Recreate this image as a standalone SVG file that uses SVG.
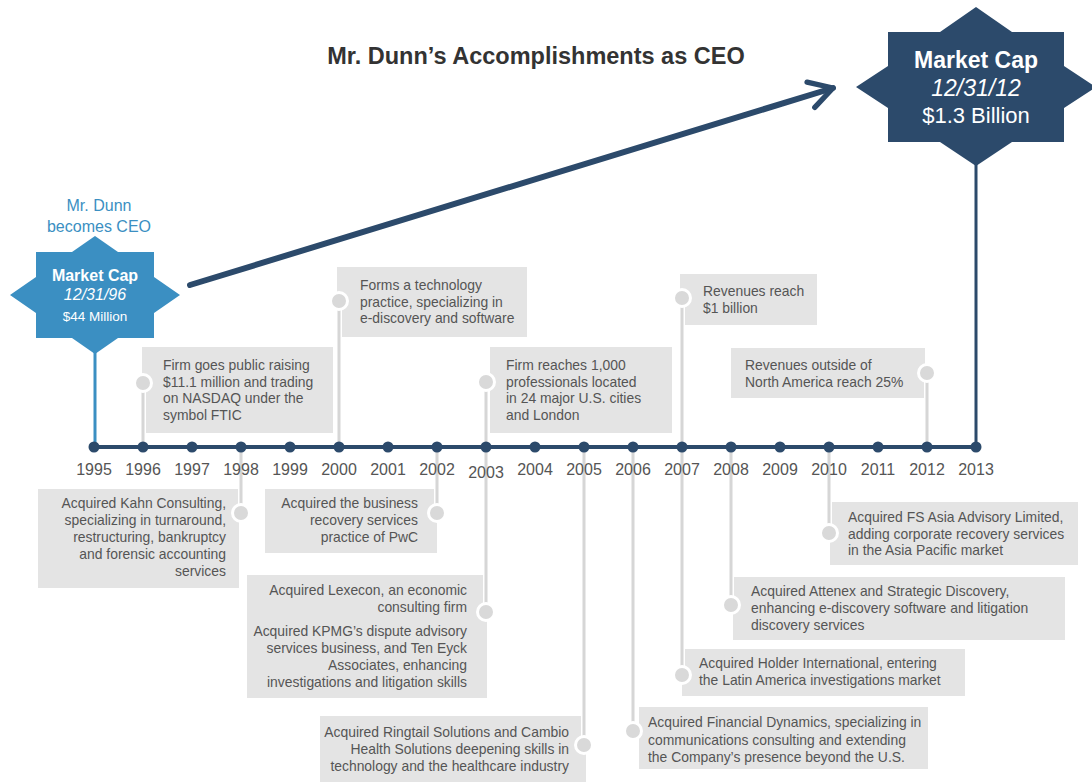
<svg xmlns="http://www.w3.org/2000/svg" width="1092" height="782" viewBox="0 0 1092 782">
<defs>
<style>
.box{fill:#e4e4e4}
.t{font-family:"Liberation Sans",Arial,sans-serif;font-size:13.9px;fill:#555}
.r{text-anchor:end}
.yr{font-family:"Liberation Sans",Arial,sans-serif;font-size:16px;fill:#555;text-anchor:middle}
.lead{stroke:#fff;stroke-width:6;fill:none}
.leadc{stroke:#d6d6d6;stroke-width:3;fill:none}
.dot{fill:#d9d9d9;stroke:#fff;stroke-width:3}
.ax{fill:#2c4a6b}
.st{font-family:"Liberation Sans",Arial,sans-serif;fill:#fff;text-anchor:middle}
</style>
<marker id="chev" viewBox="0 0 10 10" refX="8" refY="5" markerWidth="5.5" markerHeight="5.5" orient="auto" markerUnits="strokeWidth">
<path d="M1,1 L8,5 L1,9" fill="none" stroke="#2c4a6b" stroke-width="1.6" stroke-linecap="round" stroke-linejoin="round"/>
</marker>
</defs>
<rect width="1092" height="782" fill="#fff"/>

<text x="536" y="64" text-anchor="middle" font-family="Liberation Sans,Arial,sans-serif" font-size="23.5" font-weight="bold" fill="#333">Mr. Dunn’s Accomplishments as CEO</text>

<g id="growth-arrow">
<line x1="190" y1="285" x2="833" y2="88" stroke="#2c4a6b" stroke-width="6" stroke-linecap="round" marker-end="url(#chev)"/>
</g>

<g id="boxes">
<g id="e1996"><rect class="box" x="142" y="347" width="191" height="86"/>
<text class="t" x="163" y="370">Firm goes public raising</text>
<text class="t" x="163" y="386.7">$11.1 million and trading</text>
<text class="t" x="163" y="403.4">on NASDAQ under the</text>
<text class="t" x="163" y="420">symbol FTIC</text></g>

<g id="e2000"><rect class="box" x="337" y="267" width="190" height="70"/>
<text class="t" x="360" y="290">Forms a technology</text>
<text class="t" x="360" y="306.5">practice, specializing in</text>
<text class="t" x="360" y="323">e-discovery and software</text></g>

<g id="e2003u"><rect class="box" x="490" y="347" width="182" height="86"/>
<text class="t" x="506" y="370">Firm reaches 1,000</text>
<text class="t" x="506" y="386.7">professionals located</text>
<text class="t" x="506" y="403.4">in 24 major U.S. cities</text>
<text class="t" x="506" y="420">and London</text></g>

<g id="e2007u"><rect class="box" x="680" y="274" width="137" height="51"/>
<text class="t" x="703" y="296">Revenues reach</text>
<text class="t" x="703" y="313">$1 billion</text></g>

<g id="e2012"><rect class="box" x="731" y="348" width="194" height="50"/>
<text class="t" x="745" y="370">Revenues outside of</text>
<text class="t" x="745" y="387">North America reach 25%</text></g>

<g id="e1998"><rect class="box" x="38" y="489" width="201" height="99"/>
<text class="t r" x="226" y="508">Acquired Kahn Consulting,</text>
<text class="t r" x="226" y="525">specializing in turnaround,</text>
<text class="t r" x="226" y="542">restructuring, bankruptcy</text>
<text class="t r" x="226" y="559">and forensic accounting</text>
<text class="t r" x="226" y="576">services</text></g>

<g id="e2002"><rect class="box" x="265" y="489" width="172" height="64"/>
<text class="t r" x="418" y="508">Acquired the business</text>
<text class="t r" x="418" y="525">recovery services</text>
<text class="t r" x="418" y="542">practice of PwC</text></g>

<g id="e2003l"><rect class="box" x="247" y="575" width="240" height="123"/>
<text class="t r" x="467" y="595">Acquired Lexecon, an economic</text>
<text class="t r" x="467" y="612">consulting firm</text>
<text class="t r" x="467" y="636">Acquired KPMG’s dispute advisory</text>
<text class="t r" x="467" y="653">services business, and Ten Eyck</text>
<text class="t r" x="467" y="670">Associates, enhancing</text>
<text class="t r" x="467" y="687">investigations and litigation skills</text></g>

<g id="e2005"><rect class="box" x="320" y="716" width="266" height="66"/>
<text class="t r" x="569" y="737">Acquired Ringtail Solutions and Cambio</text>
<text class="t r" x="569" y="754">Health Solutions deepening skills in</text>
<text class="t r" x="569" y="771">technology and the healthcare industry</text></g>

<g id="e2006"><rect class="box" x="639" y="707" width="289" height="62"/>
<text class="t" x="648" y="727">Acquired Financial Dynamics, specializing in</text>
<text class="t" x="648" y="744.5">communications consulting and extending</text>
<text class="t" x="648" y="762">the Company’s presence beyond the U.S.</text></g>

<g id="e2007l"><rect class="box" x="682" y="649" width="283" height="47"/>
<text class="t" x="699" y="668">Acquired Holder International, entering</text>
<text class="t" x="699" y="685">the Latin America investigations market</text></g>

<g id="e2008"><rect class="box" x="733" y="577" width="332" height="63"/>
<text class="t" x="751" y="596">Acquired Attenex and Strategic Discovery,</text>
<text class="t" x="751" y="613">enhancing e-discovery software and litigation</text>
<text class="t" x="751" y="630">discovery services</text></g>

<g id="e2010"><rect class="box" x="830" y="502" width="248" height="63"/>
<text class="t" x="848" y="522">Acquired FS Asia Advisory Limited,</text>
<text class="t" x="848" y="538.5">adding corporate recovery services</text>
<text class="t" x="848" y="555">in the Asia Pacific market</text></g>
</g>

<g id="connectors">
<path class="lead" d="M143,447V383 M339,447V301 M486,447V382 M682,447V298 M927,447V373 M241,447V513 M437,447V513 M486,447V612 M584,447V745 M633,447V731 M682,447V675 M731,447V605 M829,447V533"/>
<path class="leadc" d="M143,447V383 M339,447V301 M486,447V382 M682,447V298 M927,447V373 M241,447V513 M437,447V513 M486,447V612 M584,447V745 M633,447V731 M682,447V675 M731,447V605 M829,447V533"/>
<circle class="dot" cx="143" cy="383" r="8.5"/>
<circle class="dot" cx="339" cy="301" r="8.5"/>
<circle class="dot" cx="486" cy="382" r="8.5"/>
<circle class="dot" cx="682" cy="298" r="8.5"/>
<circle class="dot" cx="927" cy="373" r="8.5"/>
<circle class="dot" cx="241" cy="513" r="8.5"/>
<circle class="dot" cx="437" cy="513" r="8.5"/>
<circle class="dot" cx="486" cy="612" r="8.5"/>
<circle class="dot" cx="584" cy="745" r="8.5"/>
<circle class="dot" cx="633" cy="731" r="8.5"/>
<circle class="dot" cx="682" cy="675" r="8.5"/>
<circle class="dot" cx="731" cy="605" r="8.5"/>
<circle class="dot" cx="829" cy="533" r="8.5"/>
<line x1="95" y1="350" x2="95" y2="447" stroke="#3b8fc2" stroke-width="3"/>
<line x1="976" y1="160" x2="976" y2="447" stroke="#2c4a6b" stroke-width="3"/>
</g>

<g id="timeline">
<line x1="94" y1="447" x2="976" y2="447" stroke="#2c4a6b" stroke-width="4"/>
<circle class="ax" cx="94" cy="447" r="5.5"/><circle class="ax" cx="143" cy="447" r="5.5"/><circle class="ax" cx="192" cy="447" r="5.5"/><circle class="ax" cx="241" cy="447" r="5.5"/><circle class="ax" cx="290" cy="447" r="5.5"/><circle class="ax" cx="339" cy="447" r="5.5"/><circle class="ax" cx="388" cy="447" r="5.5"/><circle class="ax" cx="437" cy="447" r="5.5"/><circle class="ax" cx="486" cy="447" r="5.5"/><circle class="ax" cx="535" cy="447" r="5.5"/><circle class="ax" cx="584" cy="447" r="5.5"/><circle class="ax" cx="633" cy="447" r="5.5"/><circle class="ax" cx="682" cy="447" r="5.5"/><circle class="ax" cx="731" cy="447" r="5.5"/><circle class="ax" cx="780" cy="447" r="5.5"/><circle class="ax" cx="829" cy="447" r="5.5"/><circle class="ax" cx="878" cy="447" r="5.5"/><circle class="ax" cx="927" cy="447" r="5.5"/><circle class="ax" cx="976" cy="447" r="5.5"/>
<text class="yr" x="94" y="475">1995</text><text class="yr" x="143" y="475">1996</text><text class="yr" x="192" y="475">1997</text><text class="yr" x="241" y="475">1998</text><text class="yr" x="290" y="475">1999</text><text class="yr" x="339" y="475">2000</text><text class="yr" x="388" y="475">2001</text><text class="yr" x="437" y="475">2002</text><text class="yr" x="486" y="478">2003</text><text class="yr" x="535" y="475">2004</text><text class="yr" x="584" y="475">2005</text><text class="yr" x="633" y="475">2006</text><text class="yr" x="682" y="475">2007</text><text class="yr" x="731" y="475">2008</text><text class="yr" x="780" y="475">2009</text><text class="yr" x="829" y="475">2010</text><text class="yr" x="878" y="475">2011</text><text class="yr" x="927" y="475">2012</text><text class="yr" x="976" y="475">2013</text>
</g>

<g id="start-star">
<text x="99" y="211" text-anchor="middle" font-family="Liberation Sans,Arial,sans-serif" font-size="16" fill="#3b8fc2">Mr. Dunn</text>
<text x="99" y="232" text-anchor="middle" font-family="Liberation Sans,Arial,sans-serif" font-size="16" fill="#3b8fc2">becomes CEO</text>
<polygon fill="#3b8fc2" points="95,236 118,252 154,252 154,277 180,295 154,313 154,338 118,338 95,354 72,338 36,338 36,313 10,295 36,277 36,252 72,252"/>
<text class="st" x="95" y="281" font-size="16" font-weight="bold">Market Cap</text>
<text class="st" x="95" y="300" font-size="16" font-style="italic" fill="#dbe9f4">12/31/96</text>
<text class="st" x="95" y="321" font-size="13.5">$44 Million</text>
</g>

<g id="end-star">
<polygon fill="#2c4a6b" points="976,7 1012,32 1064,32 1064,66 1096,87 1064,108 1064,142 1012,142 976,166 940,142 888,142 888,108 856,87 888,66 888,32 940,32"/>
<text class="st" x="976" y="68" font-size="23" font-weight="bold">Market Cap</text>
<text class="st" x="976" y="96" font-size="23" font-style="italic">12/31/12</text>
<text class="st" x="976" y="123" font-size="22">$1.3 Billion</text>
</g>
</svg>
